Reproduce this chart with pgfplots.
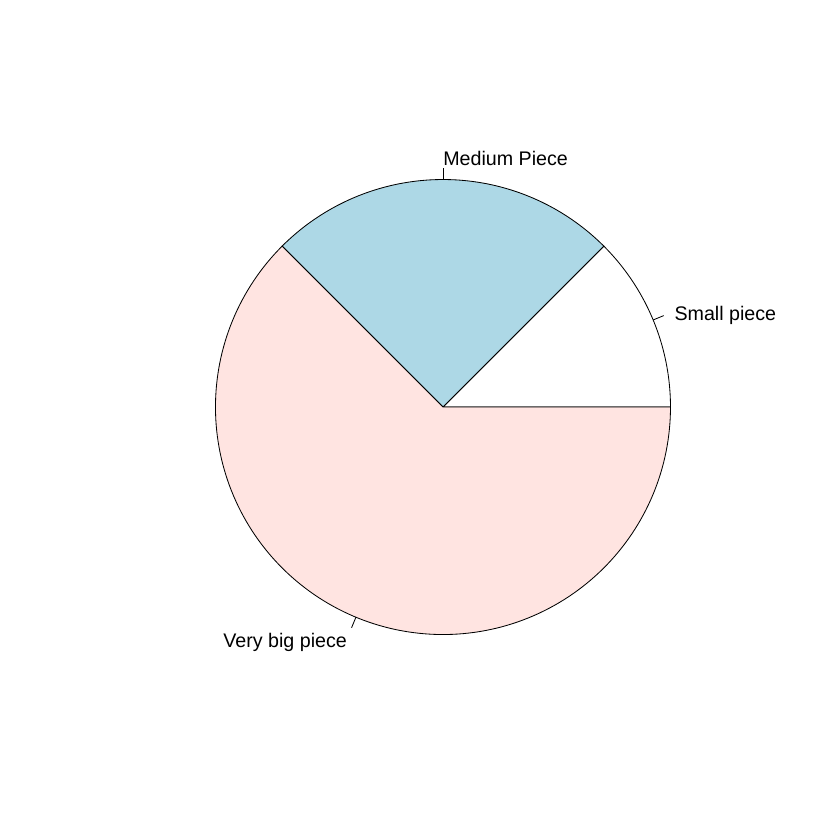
\documentclass[border=0pt]{standalone}
\usepackage{pgfplots}
\pgfplotsset{compat=1.18}
\usepackage{fontspec}
\setmainfont{Liberation Sans}
\definecolor{lightblue}{HTML}{ADD8E6}
\definecolor{mistyrose}{HTML}{FFE4E1}
\begin{document}
\begin{tikzpicture}
\def\va{1}\def\vb{2}\def\vc{5}
\pgfmathsetmacro\tot{\va+\vb+\vc}
\pgfmathsetmacro\aA{360*\va/\tot}
\pgfmathsetmacro\aB{\aA+360*\vb/\tot}
\pgfmathsetmacro\mA{\aA/2}
\pgfmathsetmacro\mB{(\aA+\aB)/2}
\pgfmathsetmacro\mC{(\aB+360)/2}
% tick line endpoints and label positions
\pgfmathsetmacro\tAx{cos(\mA)}\pgfmathsetmacro\tAy{sin(\mA)}
\pgfmathsetmacro\tBx{cos(\mB)}\pgfmathsetmacro\tBy{sin(\mB)}
\pgfmathsetmacro\tCx{cos(\mC)}\pgfmathsetmacro\tCy{sin(\mC)}
\pgfmathsetmacro\uAx{1.05*\tAx}\pgfmathsetmacro\uAy{1.05*\tAy}
\pgfmathsetmacro\uBx{1.05*\tBx}\pgfmathsetmacro\uBy{1.05*\tBy}
\pgfmathsetmacro\uCx{1.05*\tCx}\pgfmathsetmacro\uCy{1.05*\tCy}
\pgfmathsetmacro\lAx{1.1*\tAx}\pgfmathsetmacro\lAy{1.1*\tAy}
\pgfmathsetmacro\lBx{1.1*\tBx}\pgfmathsetmacro\lBy{1.1*\tBy}
\pgfmathsetmacro\lCx{1.1*\tCx}\pgfmathsetmacro\lCy{1.1*\tCy}
\begin{axis}[scale only axis, width=504pt, height=504pt,
  xmin=-1.947, xmax=1.745, ymin=-1.903, ymax=1.789,
  hide axis, clip=false]
\path (rel axis cs:0,0) rectangle (rel axis cs:1,1);
\addplot[draw=black, fill=white, line width=0.5pt, domain=0:\aA, samples=40]
  ({cos(x)},{sin(x)}) -- (axis cs:0,0) -- cycle;
\addplot[draw=black, fill=lightblue, line width=0.5pt, domain=\aA:\aB, samples=80]
  ({cos(x)},{sin(x)}) -- (axis cs:0,0) -- cycle;
\addplot[draw=black, fill=mistyrose, line width=0.5pt, domain=\aB:360, samples=160]
  ({cos(x)},{sin(x)}) -- (axis cs:0,0) -- cycle;
\addplot[black, line width=0.5pt] coordinates {(\tAx,\tAy) (\uAx,\uAy)};
\addplot[black, line width=0.5pt] coordinates {(\tBx,\tBy) (\uBx,\uBy)};
\addplot[black, line width=0.5pt] coordinates {(\tCx,\tCy) (\uCx,\uCy)};
\tikzset{lbl/.style={inner sep=0pt, text depth=0pt, yshift=-1pt, font=\fontsize{11.8}{14}\selectfont}}
\node[lbl, anchor=west] at (axis cs:\lAx,\lAy) {Small piece};
\node[lbl, anchor=west] at (axis cs:\lBx,\lBy) {Medium Piece};
\node[lbl, anchor=east] at (axis cs:\lCx,\lCy) {Very big piece};
\end{axis}
\end{tikzpicture}
\end{document}
